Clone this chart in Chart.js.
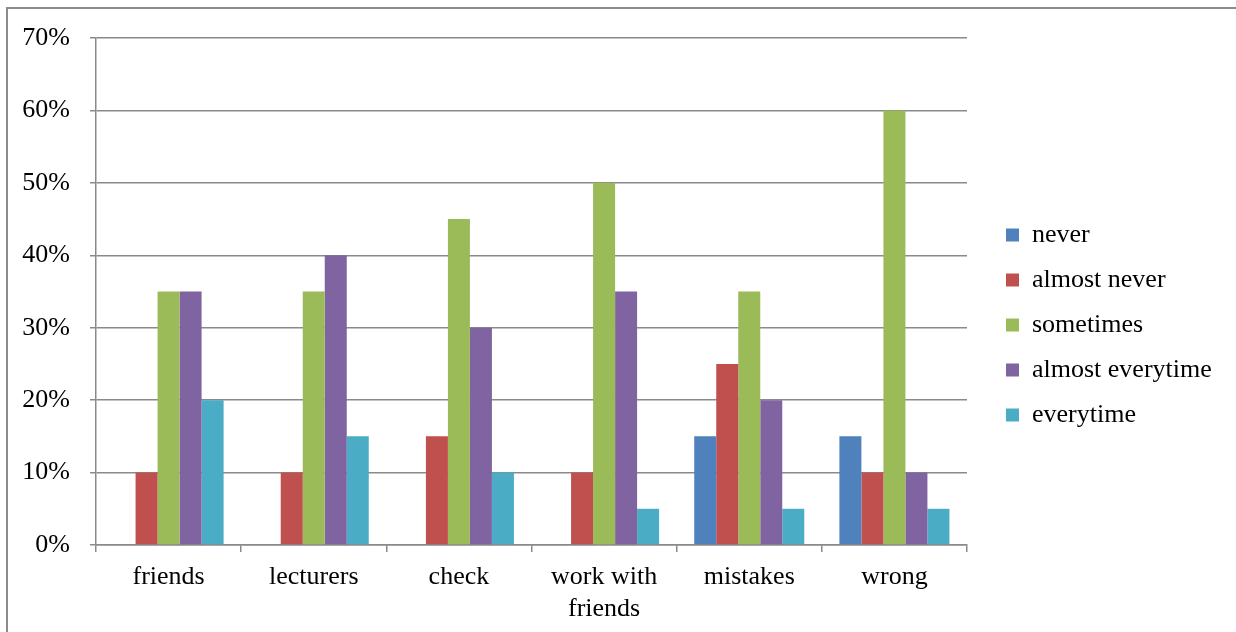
<!DOCTYPE html>
<html>
<head>
<meta charset="utf-8">
<script src="https://cdn.jsdelivr.net/npm/chart.js@4/dist/chart.umd.min.js"></script>
<style>
  html, body { margin: 0; padding: 0; background: #fff; }
  #wrap { width: 1236px; height: 632px; position: relative; }
</style>
</head>
<body>
<div id="wrap"><canvas id="c" width="1236" height="632"></canvas></div>
<script>
// Survey answers per situation, in percent
const categories = ['friends', 'lecturers', 'check', ['work with', 'friends'], 'mistakes', 'wrong'];
const seriesNames = ['never', 'almost never', 'sometimes', 'almost everytime', 'everytime'];
const never           = [0, 0, 0, 0, 15, 15];
const almostNever     = [10, 10, 15, 10, 25, 10];
const sometimes       = [35, 35, 45, 50, 35, 60];
const almostEverytime = [35, 40, 30, 35, 20, 10];
const everytime       = [20, 15, 10, 5, 5, 5];
const yTicks = [0, 10, 20, 30, 40, 50, 60, 70];

const colors = ['#4F81BD', '#C0504D', '#9BBB59', '#8064A2', '#4BACC6'];
const seriesValues = [never, almostNever, sometimes, almostEverytime, everytime];

const FONT = 'Liberation Serif, Times New Roman, serif';
const FONT_SIZE = 26;
const GRID = '#8a8a8a';

// legend geometry
const CANVAS_W = 1236;
const PLOT_RIGHT = 967;     // right edge of the plot area
const LEGEND_LEFT = 987;    // where the legend content starts (before its padding)
const LEGEND_BOX = 13;
const LEGEND_PAD = 19;

// the legend takes all room right of the plot, and its content is drawn
// a little away from the plot edge
const legendPlacement = {
  id: 'legendPlacement',
  beforeLayout(chart) {
    const lg = chart.legend;
    if (!lg || lg._placed) return;
    lg._placed = true;
    const fit = lg.fit;
    lg.fit = function () {
      fit.call(this);
      this.width = CANVAS_W - PLOT_RIGHT;
    };
    const draw = lg.draw;
    lg.draw = function () {
      const l = this.left;
      this.left = LEGEND_LEFT;
      draw.call(this);
      this.left = l;
    };
  }
};

// outer frame lines of the chart object
const framePlugin = {
  id: 'frame',
  beforeDraw(chart) {
    const ctx = chart.ctx;
    ctx.save();
    ctx.strokeStyle = '#8c8c8c';
    ctx.lineWidth = 2;
    ctx.beginPath();
    ctx.moveTo(7, 632);
    ctx.lineTo(7, 8);
    ctx.lineTo(1236, 8);
    ctx.stroke();
    ctx.restore();
  }
};

new Chart(document.getElementById('c'), {
  type: 'bar',
  data: {
    labels: categories,
    datasets: seriesNames.map((name, i) => ({
      label: name,
      data: seriesValues[i],
      backgroundColor: colors[i],
      borderWidth: 0,
      categoryPercentage: 0.758,
      barPercentage: 1.0
    }))
  },
  options: {
    responsive: false,
    animation: false,
    devicePixelRatio: 1,
    layout: { padding: { top: 18, left: 10, right: 0, bottom: 0 } },
    plugins: {
      title: { display: false },
      tooltip: { enabled: false },
      legend: {
        position: 'right',
        labels: {
          boxWidth: LEGEND_BOX,
          boxHeight: LEGEND_BOX,
          padding: LEGEND_PAD,
          color: '#000',
          font: { family: FONT, size: FONT_SIZE }
        }
      }
    },
    scales: {
      x: {
        grid: {
          offset: true,
          drawOnChartArea: false,
          drawTicks: true,
          tickLength: 7,
          color: GRID,
          lineWidth: 1.5
        },
        border: { display: true, color: GRID, width: 1.5 },
        ticks: {
          color: '#000',
          padding: 10,
          maxRotation: 0,
          autoSkip: false,
          font: { family: FONT, size: FONT_SIZE }
        },
        afterFit(s) { s.height = 87; }
      },
      topGap: {
        type: 'linear',
        position: 'top',
        display: true,
        grid: { display: false },
        border: { display: false },
        ticks: { display: false },
        afterFit(s) { s.height = 20; }
      },
      y: {
        min: 0,
        max: 70,
        afterBuildTicks(s) { s.ticks = yTicks.map(v => ({ value: v })); },
        grid: {
          drawTicks: true,
          tickLength: 6,
          color: GRID,
          lineWidth: 1.5
        },
        border: { display: true, color: GRID, width: 1.5 },
        ticks: {
          color: '#000',
          padding: 20,
          font: { family: FONT, size: FONT_SIZE },
          callback: v => v + '%'
        },
        afterFit(s) { s.width = 86; }
      }
    }
  },
  plugins: [framePlugin, legendPlacement]
});
</script>
</body>
</html>
